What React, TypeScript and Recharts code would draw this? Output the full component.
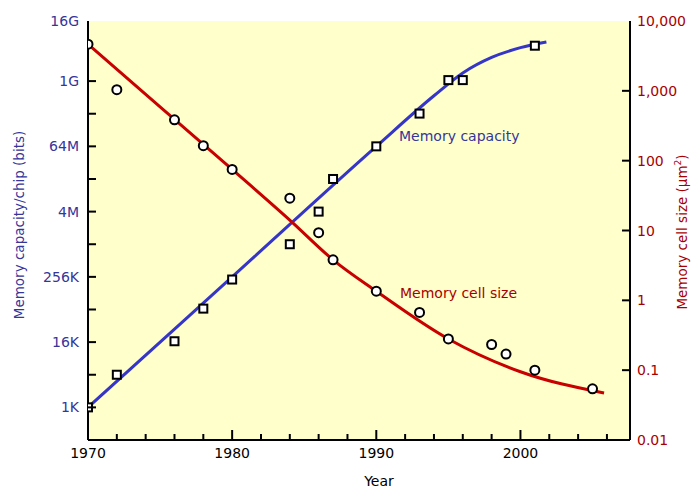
import React from 'react';
import { ComposedChart, Line, Scatter, XAxis, YAxis, CartesianGrid } from 'recharts';

// DRAM capacity per chip (bits), measured squares
const capacityYears = [1970, 1972, 1976, 1978, 1980, 1984, 1986, 1987, 1990, 1993, 1995, 1996, 2001];
const capacityBits = [1024, 4096, 17000, 68000, 234000, 1048576, 4194304, 16777216, 67108864, 270000000, 1120000000, 1120000000, 4830000000];

// blue trend curve
const capacityTrendYears = [1970, 1980, 1990, 1994, 1996, 1998, 2000, 2001.8];
const capacityTrendBits = [1024, 262144, 67108864, 575400000, 1518000000, 2934000000, 4447000000, 5667000000];

// memory cell size (um^2), measured circles
const cellYears = [1970, 1972, 1976, 1978, 1980, 1984, 1986, 1987, 1990, 1993, 1995, 1998, 1999, 2001, 2005];
const cellSizes = [4650, 1040, 385, 164, 75, 29, 9.3, 3.8, 1.35, 0.67, 0.28, 0.233, 0.17, 0.1, 0.054];

// red trend curve
const cellTrendYears = [1970, 1975, 1980, 1984, 1987, 1990, 1995, 2000, 2005.8];
const cellTrendSizes = [4650, 589, 75, 14.1, 3.8, 1.35, 0.28, 0.095, 0.047];

const yearDomain = [1970, 2007.6];
const yearTicks = [1970, 1972, 1974, 1976, 1978, 1980, 1982, 1984, 1986, 1988, 1990, 1992, 1994, 1996, 1998, 2000, 2002, 2004, 2006];
const yearLabels = [1970, 1980, 1990, 2000];

const capDomain = [256, 13800000000];
const capTicks = [1024, 4096, 16384, 65536, 262144, 1048576, 4194304, 16777216, 67108864, 268435456, 1073741824, 13800000000];
const capLabelValues = [1024, 16384, 262144, 4194304, 67108864, 1073741824, 13800000000];
const capLabelNames = ['1K', '16K', '256K', '4M', '64M', '1G', '16G'];

const cellDomain = [0.01, 10000];
const cellTicks = [0.01, 0.1, 1, 10, 100, 1000, 10000];
const cellLabelNames = ['0.01', '0.1', '1', '10', '100', '1,000', '10,000'];

const toPoints = (xs: number[], ys: number[]) => xs.map((year, i) => ({ year, value: ys[i] }));
const capacityPoints = toPoints(capacityYears, capacityBits);
const capacityTrend = toPoints(capacityTrendYears, capacityTrendBits);
const cellPoints = toPoints(cellYears, cellSizes);
const cellTrend = toPoints(cellTrendYears, cellTrendSizes);

const BLUE = '#3535c8';
const BLUE_TEXT = '#35359a';
const RED = '#c80000';
const RED_TEXT = '#a80000';
const FONT = '"DejaVu Sans", Verdana, sans-serif';

const YearTick = (props: any) => {
  const { x, y, payload } = props;
  const v = payload.value;
  const major = yearLabels.includes(v);
  return (
    <g>
      {v !== yearDomain[0] && (
        <line x1={x} x2={x} y1={y} y2={y - (major ? 10 : 6)} stroke="#000" strokeWidth={2} />
      )}
      {major && (
        <text x={x} y={y + 18} textAnchor="middle" fill="#000" fontSize={14} fontFamily={FONT}>{v}</text>
      )}
    </g>
  );
};

const CapTick = (props: any) => {
  const { x, y, payload } = props;
  const v = payload.value;
  const idx = capLabelValues.indexOf(v);
  return (
    <g>
      {v !== capDomain[1] && <line x1={x} x2={x + 8} y1={y} y2={y} stroke="#000" strokeWidth={2} />}
      {idx >= 0 && (
        <text x={x - 9} y={y + 5} textAnchor="end" fill={BLUE_TEXT} fontSize={14} fontFamily={FONT}>{capLabelNames[idx]}</text>
      )}
    </g>
  );
};

const CellTick = (props: any) => {
  const { x, y, payload } = props;
  const v = payload.value;
  const idx = cellTicks.indexOf(v);
  const edge = v === cellDomain[0] || v === cellDomain[1];
  return (
    <g>
      {!edge && <line x1={x - 8} x2={x} y1={y} y2={y} stroke="#000" strokeWidth={2} />}
      <text x={x + 7} y={y + 5} textAnchor="start" fill={RED_TEXT} fontSize={14} fontFamily={FONT}>{cellLabelNames[idx]}</text>
    </g>
  );
};

const Square = (p: any) => (
  <rect x={p.cx - 4} y={p.cy - 4} width={8} height={8} fill="#fff" stroke="#000" strokeWidth={2} />
);
const Circle = (p: any) => (
  <circle cx={p.cx} cy={p.cy} r={4.5} fill="#fff" stroke="#000" strokeWidth={2} />
);

export default function App() {
  return (
    <div style={{ position: 'absolute', left: 0, top: 0, width: 691, height: 490, background: '#fff', fontFamily: FONT }}>
      <ComposedChart width={691} height={490} margin={{ top: 21, right: 0, bottom: 0, left: 0 }}>
        <CartesianGrid xAxisId="year" yAxisId="cap" horizontal={false} vertical={false} fill="#ffffcc" />
        <XAxis
          xAxisId="year" dataKey="year" type="number" domain={yearDomain} ticks={yearTicks} interval={0}
          height={50} tickSize={0} tickMargin={0} tickLine={false} tick={<YearTick />}
          axisLine={{ stroke: '#000', strokeWidth: 2 }} allowDataOverflow
        />
        <XAxis
          xAxisId="top" orientation="top" dataKey="year" type="number" domain={yearDomain}
          height={0} tick={false} tickLine={false} axisLine={{ stroke: '#000', strokeWidth: 2 }} allowDataOverflow
        />
        <YAxis
          yAxisId="cap" orientation="left" dataKey="value" scale="log" domain={capDomain} ticks={capTicks} interval={0}
          width={88} tickSize={0} tickMargin={0} tickLine={false} tick={<CapTick />}
          axisLine={{ stroke: '#000', strokeWidth: 2 }} allowDataOverflow
        />
        <YAxis
          yAxisId="cell" orientation="right" dataKey="value" scale="log" domain={cellDomain} ticks={cellTicks} interval={0}
          width={61} tickSize={0} tickMargin={0} tickLine={false} tick={<CellTick />}
          axisLine={{ stroke: '#000', strokeWidth: 2 }} allowDataOverflow
        />
        <Line xAxisId="year" yAxisId="cap" data={capacityTrend} dataKey="value" type="monotone" stroke={BLUE} strokeWidth={3} dot={false} isAnimationActive={false} />
        <Line xAxisId="year" yAxisId="cell" data={cellTrend} dataKey="value" type="monotone" stroke={RED} strokeWidth={3} dot={false} isAnimationActive={false} />
        <Scatter xAxisId="year" yAxisId="cap" data={capacityPoints} dataKey="value" shape={Square} isAnimationActive={false} />
        <Scatter xAxisId="year" yAxisId="cell" data={cellPoints} dataKey="value" shape={Circle} isAnimationActive={false} />
      </ComposedChart>
      <svg width={691} height={490} style={{ position: 'absolute', left: 0, top: 0, pointerEvents: 'none' }} fontFamily={FONT}>
        <text x={399} y={141} fill={BLUE_TEXT} fontSize={14}>Memory capacity</text>
        <text x={400} y={298} fill={RED_TEXT} fontSize={14}>Memory cell size</text>
        <text x={379} y={486} textAnchor="middle" fill="#000" fontSize={14}>Year</text>
        <text x={24} y={225} transform="rotate(-90 24 225)" textAnchor="middle" fill={BLUE_TEXT} fontSize={13.5}>
          Memory capacity/chip (bits)
        </text>
        <text x={687} y={232} transform="rotate(-90 687 232)" textAnchor="middle" fill={RED_TEXT} fontSize={13.5}>
          Memory cell size (µm<tspan fontSize={9} dy={-6}>2</tspan><tspan dy={6}>)</tspan>
        </text>
      </svg>
    </div>
  );
}
